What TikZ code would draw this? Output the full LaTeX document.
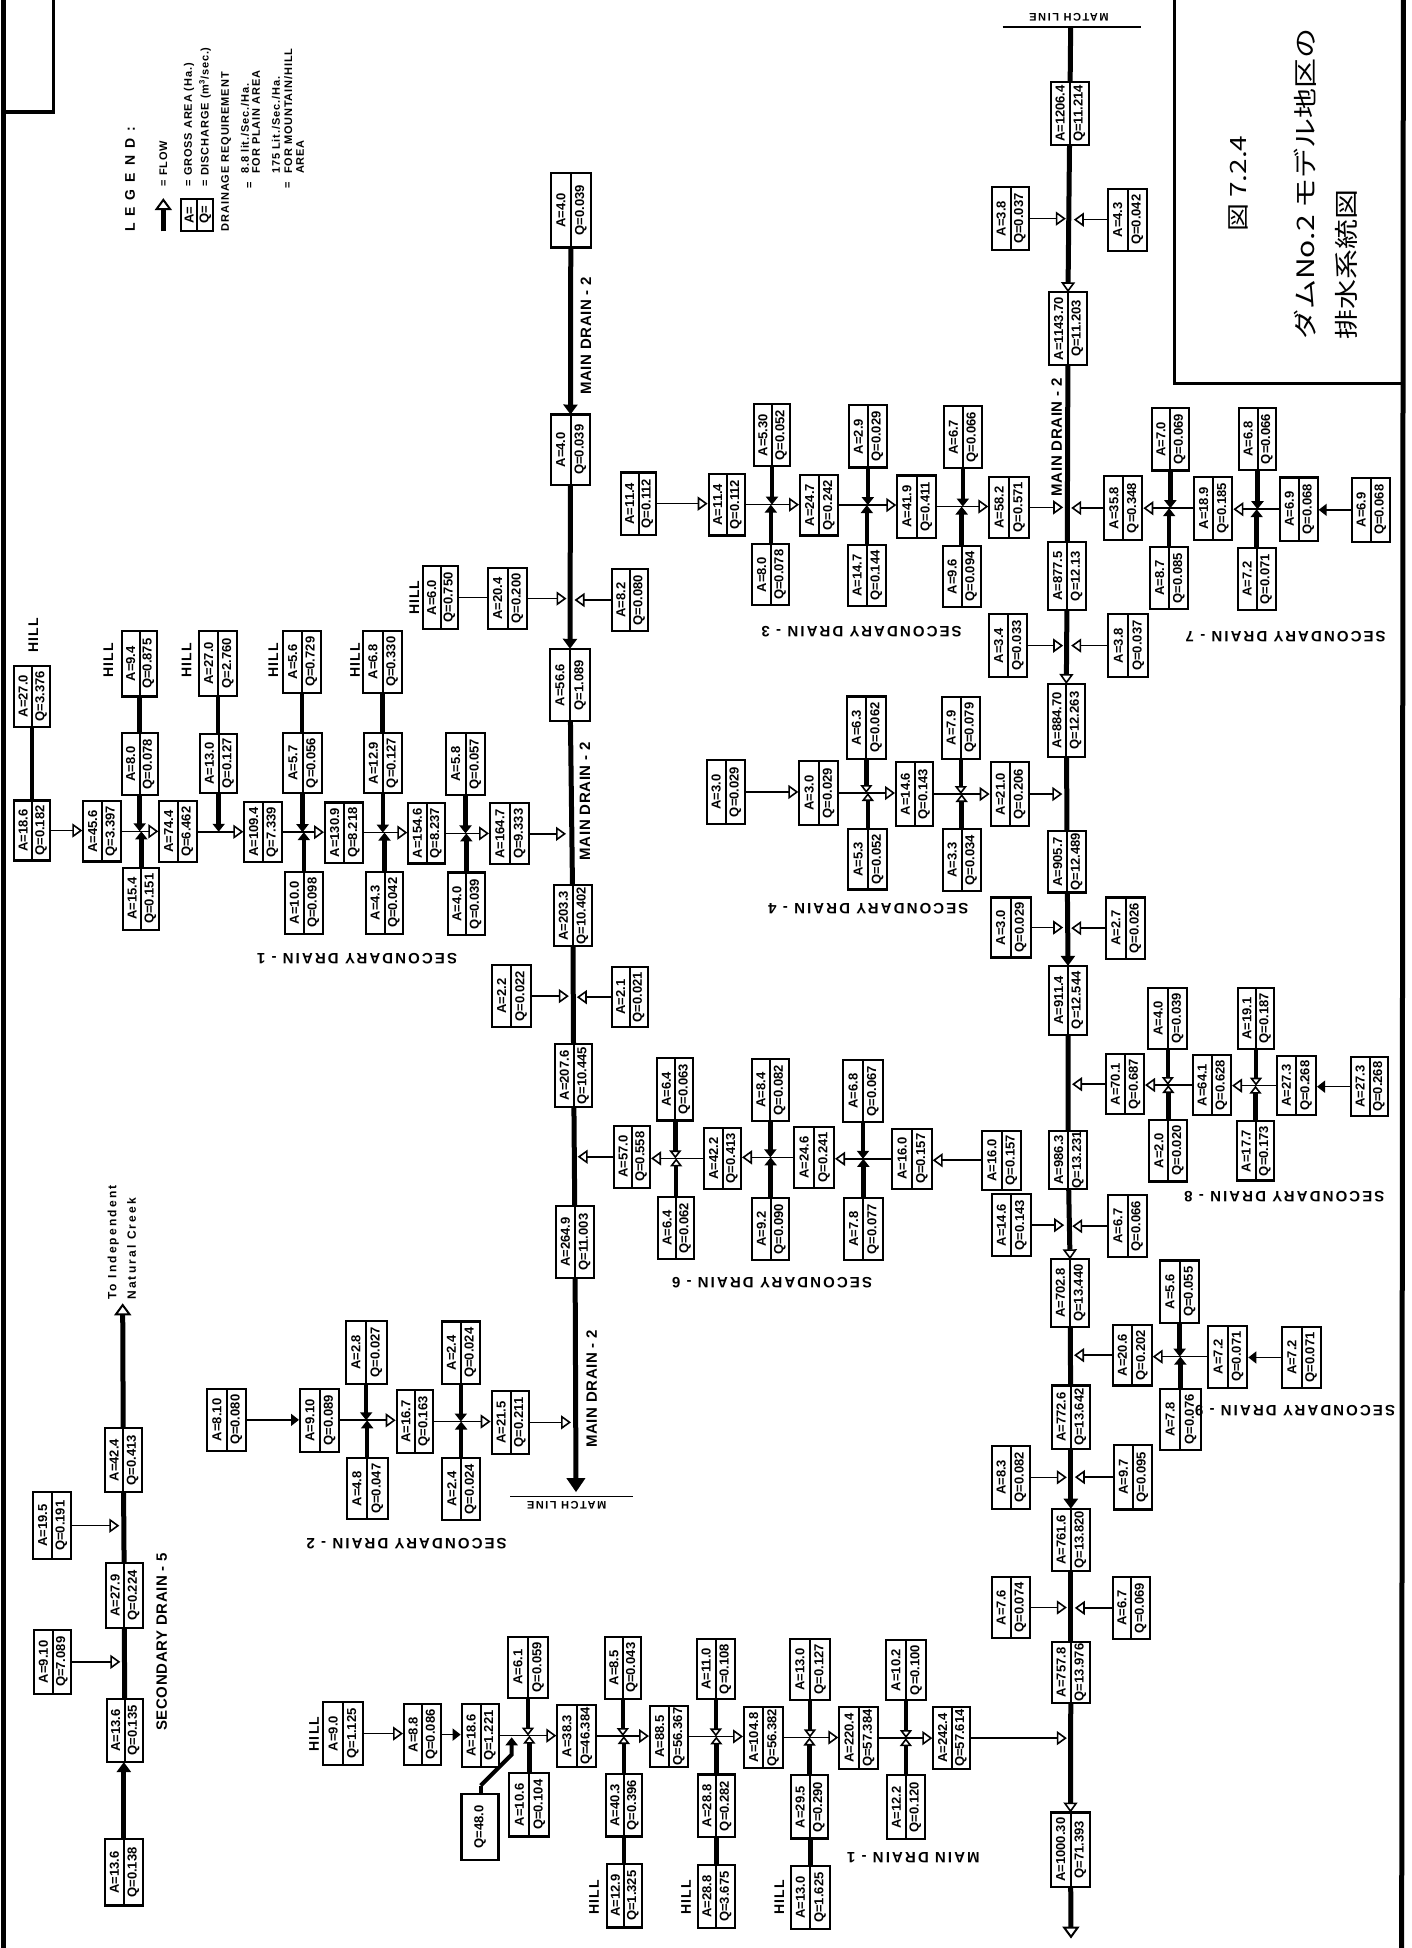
\documentclass[tikz,border=0pt]{standalone}
\usepackage{fontspec}
\usepackage{graphicx}
\setmainfont{Liberation Sans}
\newfontfamily\cjk{Noto Sans CJK JP}
\usetikzlibrary{arrows.meta}
\pgfdeclarelayer{bg}
\pgfsetlayers{bg,main}
\newcommand\lsf[2]{\bfseries\fontsize{#1}{#1}\selectfont\addfontfeature{LetterSpace=#2}}
\newcommand\thin[1]{\scalebox{1}[.8]{#1}}
\tikzset{
  oa/.tip={Triangle[fill=white,length=10pt,width=14pt,line width=1.6pt]},
  ob/.tip={Triangle[fill=white,length=12pt,width=17pt,line width=2pt]},
  ba/.tip={Triangle[length=10pt,width=14pt]},
  bb/.tip={Triangle[length=14pt,width=18pt]},
  jb/.tip={Triangle[length=8pt,width=12pt]},
  jw/.tip={Triangle[fill=white,length=8pt,width=12pt,line width=1.6pt]},
  bxo/.style={draw=black,fill=white,line width=2.2pt,rectangle,inner sep=0pt,outer sep=0pt},
  bxl/.style={draw=black,line width=2pt},
  bxt/.style={rotate=90,inner sep=0pt,font=\bfseries\fontsize{13}{13}\selectfont},
  thinl/.style={draw=black,line width=1.6pt},
  brl/.style={draw=black,line width=4.5pt},
  mainl/.style={draw=black,line width=5pt},
  fr/.style={draw=black,line width=5pt},
  fr2/.style={draw=black,line width=3.2pt},
  drn/.style={rotate=180,inner sep=0pt,font=\lsf{15}{14}},
  drv/.style={rotate=90,inner sep=0pt,font=\lsf{15}{4}},
  hill/.style={rotate=90,inner sep=0pt,font=\lsf{14}{8}},
  lg/.style={rotate=90,anchor=west,inner sep=0pt,font=\lsf{11}{8}},
  ttl/.style={rotate=90,anchor=west,inner sep=0pt,font=\cjk\fontsize{30}{30}\selectfont},
}
\newcommand\tile[2]{\pgfmathsetmacro\tcx{470*#1}\pgfmathsetmacro\tcy{650*#2}\ifnum#2=2 \def\tf{.4133}\else\def\tf{.4145}\fi}
\newcommand\bx[7]{%
  \pgfmathsetmacro\xa{\tcx+(#2)/3}\pgfmathsetmacro\xb{\tcx+(#4)/3}%
  \pgfmathsetmacro\ya{\tcy+(#3)*\tf}\pgfmathsetmacro\yb{\tcy+(#5)*\tf}%
  \pgfmathsetmacro\cxx{(\xa+\xb)/2}\pgfmathsetmacro\cyy{-(\ya+\yb)/2}%
  \pgfmathsetmacro\ww{\xb-\xa}\pgfmathsetmacro\hh{\yb-\ya}\pgfmathsetmacro\qw{\ww/4}%
  \node[bxo,minimum width=\ww pt,minimum height=\hh pt] (#1) at (\cxx,\cyy) {};
  \draw[bxl] (#1.north) -- (#1.south);
  \node[bxt] (#1-a) at ([xshift=-\qw pt]#1.center) {#6};
  \node[bxt] (#1-q) at ([xshift=\qw pt]#1.center) {#7};
}
\newcommand\lab[5][]{%
  \pgfmathsetmacro\xa{\tcx+(#3)/3}\pgfmathsetmacro\ya{-(\tcy+(#4)*\tf)}%
  \node[#1] (#2) at (\xa,\ya) {#5};
}
\newcommand\mypt[3]{%
  \pgfmathsetmacro\xa{\tcx+(#2)/3}\pgfmathsetmacro\ya{-(\tcy+(#3)*\tf)}%
  \coordinate (#1) at (\xa,\ya);
}
\newcommand\clr[3][oa]{\draw[thinl,-#1,shorten >=1pt] (#2.east) -- (#2.east -| #3.west);}
\newcommand\crl[3][oa]{\draw[thinl,-#1,shorten >=1pt] (#2.west) -- (#2.west -| #3.east);}
\newcommand\clm[2]{\draw[thinl,-oa,shorten >=4pt] (#1.east) -- (#1.east -| #2);}
\newcommand\crm[2]{\draw[thinl,-oa,shorten >=4pt] (#1.west) -- (#1.west -| #2);}
\newcommand\xjct[4][jb]{%
  \draw[brl,-#1] (#3.south) -- (#3.south |- #2.east);
  \draw[brl,-#1] (#4.north) -- (#4.north |- #2.east);
}
\begin{document}
\begin{tikzpicture}[x=1pt,y=1pt]
\useasboundingbox (0,0) rectangle (1411,-1948);
% ---------- tile 0,0 : frame, legend
\tile{0}{0}
\mypt{fla}{9}{0}\mypt{flb}{9}{4704}
\mypt{bxa}{160}{0}\mypt{bxb}{160}{270}\mypt{bxc}{15}{270}
\lab[lg,font=\lsf{14}{50}]{legt}{390}{560}{LEGEND:}
\mypt{las}{490}{558}\mypt{lae}{490}{478}
\lab[lg]{lgf}{490}{450}{= FLOW}
\bx{lgb}{543}{480}{640}{558}{A=}{Q=}
\lab[lg]{lg1}{567}{450}{= GROSS AREA (Ha.)}
\lab[lg]{lg2}{615}{450}{= DISCHARGE (m\textsuperscript{3}/sec.)}
\lab[lg]{lg3}{678}{558}{DRAINAGE REQUIREMENT}
\lab[lg]{lg4}{735}{420}{8.8 lit./Sec./Ha.}
\lab[lg]{lg4e}{750}{455}{=}
\lab[lg]{lg5}{768}{420}{FOR PLAIN AREA}
\lab[lg]{lg6}{828}{420}{175 Lit./Sec./Ha.}
\lab[lg]{lg6e}{865}{455}{=}
\lab[lg]{lg7}{865}{420}{FOR MOUNTAIN/HILL}
\lab[lg]{lg8}{900}{420}{AREA}
\bx{a60}{1268}{1365}{1375}{1518}{A=6.0}{Q=0.750}
\lab[hill]{h60}{1243}{1442}{HILL}
\lab[hill]{h27}{100}{1533}{HILL}
% ---------- tile 1,0
\tile{1}{0}
\bx{m2a}{243}{418}{362}{597}{A=4.0}{Q=0.039}
\bx{m2b}{243}{1000}{360}{1170}{A=4.0}{Q=0.039}
\lab[drv]{ldm2a}{348}{810}{MAIN DRAIN - 2}
\bx{a204}{53}{1370}{172}{1518}{A=20.4}{Q=0.200}
\bx{a82}{425}{1373}{535}{1522}{A=8.2}{Q=0.080}
\bx{s3a}{453}{1140}{558}{1290}{A=11.4}{Q=0.112}
\bx{s3b}{716}{1143}{825}{1292}{A=11.4}{Q=0.112}
\bx{s3t1}{852}{975}{960}{1125}{A=5.30}{Q=0.052}
\bx{s3d1}{847}{1313}{958}{1460}{A=8.0}{Q=0.078}
\bx{s3c}{990}{1145}{1105}{1292}{A=24.7}{Q=0.242}
\bx{s3t2}{1137}{978}{1250}{1128}{A=2.9}{Q=0.029}
\bx{s3d2}{1133}{1315}{1248}{1462}{A=14.7}{Q=0.144}
\bx{s3e}{1282}{1147}{1398}{1297}{A=41.9}{Q=0.411}
% ---------- tile 2,0
\tile{2}{0}
\mypt{frra}{1390}{0}\mypt{frrb}{1385}{4704}
\mypt{tba}{703}{0}\mypt{tbb}{703}{925}\mypt{tbc}{1388}{925}
\lab[ttl,font=\cjk\fontsize{28}{28}\selectfont]{ttl1}{895}{560}{\thin{図 7.2.4}}
\lab[ttl]{ttl2}{1095}{820}{\thin{ダムNo.2 モデル地区の}}
\lab[ttl]{ttl3}{1220}{820}{\thin{排水系統図}}
\mypt{mla}{188}{65}\mypt{mlb}{603}{65}\mypt{m7top}{392}{65}
\lab[drn,font=\lsf{11}{14}]{mlt1}{387}{42}{MATCH LINE}
\bx{m7a}{332}{198}{447}{350}{A=1206.4}{Q=11.214}
\bx{a38}{155}{452}{268}{603}{A=3.8}{Q=0.037}
\bx{a43}{503}{455}{622}{605}{A=4.3}{Q=0.042}
\bx{m7b}{328}{705}{440}{880}{A=1143.70}{Q=11.203}
\bx{m7c}{325}{1307}{438}{1472}{A=877.5}{Q=12.13}
\lab[drv]{ldm7}{350}{1055}{MAIN DRAIN - 2}
\bx{s3t3}{12}{980}{125}{1130}{A=6.7}{Q=0.066}
\bx{s3d3}{8}{1317}{122}{1465}{A=9.6}{Q=0.094}
\bx{s3f}{148}{1150}{267}{1298}{A=58.2}{Q=0.571}
\bx{s7a}{493}{1148}{607}{1303}{A=35.8}{Q=0.348}
\bx{s7t1}{635}{985}{747}{1135}{A=7.0}{Q=0.069}
\bx{s7d1}{630}{1320}{745}{1470}{A=8.7}{Q=0.085}
\bx{s7b}{762}{1150}{877}{1302}{A=18.9}{Q=0.185}
\bx{s7t2}{897}{985}{1008}{1133}{A=6.8}{Q=0.066}
\bx{s7d2}{893}{1323}{1007}{1472}{A=7.2}{Q=0.071}
\bx{s7c}{1020}{1152}{1133}{1305}{A=6.9}{Q=0.068}
\bx{s7e}{1235}{1153}{1350}{1307}{A=6.9}{Q=0.068}
\lab[drn]{ld7}{1037}{1535}{SECONDARY DRAIN - 7}
\bx{a34}{147}{1482}{262}{1633}{A=3.4}{Q=0.033}
\bx{a38b}{505}{1482}{625}{1633}{A=3.8}{Q=0.037}
\lab[drn]{ld3}{-235}{1523}{SECONDARY DRAIN - 3}
% ---------- tile 0,1
\tile{0}{1}
\bx{a270}{43}{38}{150}{185}{A=27.0}{Q=3.376}
\bx{a186b}{43}{363}{150}{508}{A=18.6}{Q=0.182}
\bx{a495}{250}{365}{362}{510}{A=45.6}{Q=3.397}
\bx{a94}{365}{-46}{472}{112}{A=9.4}{Q=0.875}
\bx{a80}{365}{200}{473}{350}{A=8.0}{Q=0.078}
\bx{a154}{370}{525}{478}{675}{A=15.4}{Q=0.151}
\bx{a744}{478}{365}{590}{512}{A=74.4}{Q=6.462}
\bx{a27t}{597}{-46}{712}{110}{A=27.0}{Q=2.760}
\bx{a130}{600}{203}{712}{345}{A=13.0}{Q=0.127}
\bx{a109}{733}{367}{845}{512}{A=109.4}{Q=7.339}
\bx{a56}{850}{-46}{962}{103}{A=5.6}{Q=0.729}
\bx{a57}{850}{200}{965}{345}{A=5.7}{Q=0.056}
\bx{a100}{855}{535}{968}{685}{A=10.0}{Q=0.098}
\bx{a1309}{975}{368}{1090}{513}{A=130.9}{Q=8.218}
\bx{a68}{1090}{-46}{1205}{103}{A=6.8}{Q=0.330}
\bx{a129}{1092}{200}{1205}{345}{A=12.9}{Q=0.127}
\bx{a43b}{1097}{535}{1210}{685}{A=4.3}{Q=0.042}
\bx{a1546}{1225}{370}{1335}{515}{A=154.6}{Q=8.237}
\bx{a58}{1338}{200}{1455}{350}{A=5.8}{Q=0.057}
\bx{a40}{1343}{537}{1455}{688}{A=4.0}{Q=0.039}
\bx{a1647}{1470}{370}{1588}{517}{A=164.7}{Q=9.333}
\lab[hill]{h94}{325}{25}{HILL}
\lab[hill]{h27t}{560}{25}{HILL}
\lab[hill]{h56}{820}{25}{HILL}
\lab[hill]{h68}{1065}{25}{HILL}
\lab[drn]{ld1}{1071}{745}{SECONDARY DRAIN - 1}
\lab[rotate=90,anchor=west,inner sep=0pt,font=\lsf{12}{18}]{tocr1}{340}{1568}{To Independent}
\lab[rotate=90,anchor=west,inner sep=0pt,font=\lsf{12}{18}]{tocr2}{395}{1568}{Natural Creek}
% ---------- tile 1,1
\tile{1}{1}
\bx{s4z}{710}{265}{825}{420}{A=3.0}{Q=0.029}
\bx{s4a}{988}{267}{1105}{423}{A=3.0}{Q=0.029}
\bx{s4t1}{1130}{112}{1248}{262}{A=6.3}{Q=0.062}
\bx{s4d1}{1135}{432}{1252}{578}{A=5.3}{Q=0.052}
\bx{s4b}{1278}{270}{1390}{425}{A=14.6}{Q=0.143}
\lab[drn]{ld4}{1195}{625}{SECONDARY DRAIN - 4}
\bx{m2c}{240}{-3}{360}{172}{A=56.6}{Q=1.089}
\lab[drv]{ldm2b}{345}{365}{MAIN DRAIN - 2}
\bx{m2d}{252}{567}{365}{715}{A=203.3}{Q=10.402}
\bx{a22}{65}{760}{183}{910}{A=2.2}{Q=0.022}
\bx{a21}{425}{765}{533}{910}{A=2.1}{Q=0.021}
\bx{m2e}{255}{950}{367}{1103}{A=207.6}{Q=10.445}
\bx{s6a}{433}{1148}{540}{1297}{A=57.0}{Q=0.558}
\bx{s6t1}{562}{985}{670}{1135}{A=6.4}{Q=0.063}
\bx{s6d1}{565}{1320}{672}{1470}{A=6.4}{Q=0.062}
\bx{s6b}{703}{1153}{813}{1300}{A=42.2}{Q=0.413}
\bx{s6t2}{845}{987}{957}{1137}{A=8.4}{Q=0.082}
\bx{s6d2}{847}{1322}{957}{1472}{A=9.2}{Q=0.090}
\bx{s6c}{973}{1150}{1092}{1298}{A=24.6}{Q=0.241}
\bx{s6t3}{1120}{990}{1238}{1138}{A=6.8}{Q=0.067}
\bx{s6d3}{1122}{1322}{1238}{1472}{A=7.8}{Q=0.077}
\bx{s6e}{1267}{1155}{1385}{1300}{A=16.0}{Q=0.157}
\bx{m2f}{258}{1342}{372}{1515}{A=264.9}{Q=11.003}
\lab[drn]{ld6}{906}{1527}{SECONDARY DRAIN - 6}
% ---------- tile 2,1
\tile{2}{1}
\bx{m7d}{323}{82}{435}{258}{A=884.70}{Q=12.263}
\bx{s4f}{152}{270}{268}{425}{A=21.0}{Q=0.206}
\bx{s4t3}{5}{113}{120}{262}{A=7.9}{Q=0.079}
\bx{s4d3}{8}{432}{122}{582}{A=3.3}{Q=0.034}
\bx{m7e}{325}{437}{438}{585}{A=905.7}{Q=12.489}
\bx{a30b}{152}{597}{272}{742}{A=3.0}{Q=0.029}
\bx{a27}{498}{597}{615}{745}{A=2.7}{Q=0.026}
\bx{m7f}{328}{762}{440}{928}{A=911.4}{Q=12.544}
\bx{s8a}{498}{975}{612}{1120}{A=70.1}{Q=0.687}
\bx{s8t1}{625}{815}{742}{962}{A=4.0}{Q=0.039}
\bx{s8d1}{628}{1133}{742}{1282}{A=2.0}{Q=0.020}
\bx{s8b}{758}{977}{873}{1122}{A=64.1}{Q=0.628}
\bx{s8t2}{893}{815}{1003}{962}{A=19.1}{Q=0.187}
\bx{s8d2}{890}{1137}{1003}{1280}{A=17.7}{Q=0.173}
\bx{s8c}{1010}{980}{1128}{1122}{A=27.3}{Q=0.268}
\bx{s8e}{1232}{982}{1345}{1125}{A=27.3}{Q=0.268}
\bx{m7g}{327}{1160}{442}{1300}{A=986.3}{Q=13.231}
\bx{a148}{155}{1313}{272}{1462}{A=14.6}{Q=0.143}
\bx{a67}{505}{1315}{620}{1465}{A=6.7}{Q=0.066}
\bx{a160}{127}{1160}{243}{1302}{A=16.0}{Q=0.157}
\lab[drn]{ld8}{1033}{1318}{SECONDARY DRAIN - 8}
\bx{m7h}{333}{1470}{447}{1633}{A=702.8}{Q=13.440}
\bx{s9t}{660}{1473}{778}{1623}{A=5.6}{Q=0.055}
% ---------- tile 2,2
\tile{2}{2}
\bx{s9a}{518}{60}{635}{207}{A=20.6}{Q=0.202}
\bx{s9b}{805}{62}{922}{212}{A=7.2}{Q=0.071}
\bx{s9e}{1027}{65}{1142}{213}{A=7.2}{Q=0.071}
\bx{s9d}{660}{215}{782}{363}{A=7.8}{Q=0.076}
\bx{m7i}{335}{207}{450}{360}{A=772.6}{Q=13.642}
\bx{a83}{155}{353}{270}{505}{A=8.3}{Q=0.082}
\bx{a97}{522}{350}{635}{507}{A=9.7}{Q=0.095}
\bx{m7j}{335}{505}{450}{655}{A=761.6}{Q=13.820}
\bx{a76}{155}{670}{270}{818}{A=7.6}{Q=0.074}
\bx{a67b}{518}{670}{630}{820}{A=6.7}{Q=0.069}
\bx{m7k}{335}{827}{450}{975}{A=757.8}{Q=13.976}
\bx{m7l}{333}{1240}{450}{1420}{A=1000.30}{Q=71.393}
\mypt{m7end}{393}{1545}
\lab[drn]{ld9}{1065}{267}{SECONDARY DRAIN - 9}
\lab[drn]{ldm1}{-80}{1350}{MAIN DRAIN - 1}
% ---------- tile 0,2
\tile{0}{2}
\bx{s5a}{315}{1305}{428}{1465}{A=13.6}{Q=0.138}
\bx{s5b}{320}{965}{428}{1118}{A=13.6}{Q=0.135}
\bx{s5c}{318}{637}{428}{793}{A=27.9}{Q=0.224}
\bx{s5d}{315}{310}{425}{465}{A=42.4}{Q=0.413}
\bx{s5e}{103}{798}{213}{953}{A=9.10}{Q=7.089}
\bx{s5f}{100}{465}{212}{627}{A=19.5}{Q=0.191}
\mypt{s5top}{368}{8}
\lab[drv]{ld5}{485}{827}{SECONDARY DRAIN - 5}
\bx{s2z}{622}{215}{738}{365}{A=8.10}{Q=0.080}
\bx{s2a}{900}{215}{1018}{367}{A=9.10}{Q=0.089}
\bx{s2t1}{1037}{50}{1160}{203}{A=2.8}{Q=0.027}
\bx{s2d1}{1040}{383}{1163}{530}{A=4.8}{Q=0.047}
\bx{s2b}{1190}{218}{1300}{370}{A=16.7}{Q=0.163}
\bx{s2t2}{1325}{52}{1440}{203}{A=2.4}{Q=0.024}
\bx{s2d2}{1327}{383}{1440}{532}{A=2.4}{Q=0.024}
\bx{a90}{970}{973}{1088}{1125}{A=9.0}{Q=1.125}
\lab[hill]{h90}{942}{1050}{HILL}
\bx{a88}{1212}{978}{1322}{1125}{A=8.8}{Q=0.086}
\lab[drn]{ld2}{1220}{590}{SECONDARY DRAIN - 2}
% ---------- tile 1,2
\tile{1}{2}
\bx{s2c}{65}{220}{178}{372}{A=21.5}{Q=0.211}
\lab[drv]{ldm2c}{365}{215}{MAIN DRAIN - 2}
\mypt{m2end}{318}{465}
\mypt{mlc}{120}{475}\mypt{mld}{490}{475}
\lab[drn,font=\lsf{11}{14}]{mlt2}{290}{497}{MATCH LINE}
\bx{a186}{-25}{978}{88}{1130}{A=18.6}{Q=1.221}
\lab[bxo,minimum width=37pt,minimum height=66pt,font=\bfseries\fontsize{13}{13}\selectfont]{q48}{30}{1275}{\rotatebox{90}{Q=48.0}}
\mypt{q48a}{32}{1175}\mypt{q48b}{125}{1100}\mypt{q48c}{125}{1058}
\bx{m1t1}{113}{815}{235}{962}{A=6.1}{Q=0.059}
\bx{m1d1}{118}{1145}{238}{1298}{A=10.6}{Q=0.104}
\bx{m1a}{262}{980}{378}{1130}{A=38.3}{Q=46.384}
\bx{m1t2}{405}{815}{512}{965}{A=8.5}{Q=0.043}
\bx{m1d2}{408}{1147}{515}{1298}{A=40.3}{Q=0.396}
\bx{m1h2}{410}{1365}{515}{1518}{A=12.9}{Q=1.325}
\lab[hill]{h2}{372}{1445}{HILL}
\bx{m1b}{540}{982}{655}{1130}{A=88.5}{Q=56.367}
\bx{m1t3}{680}{820}{795}{965}{A=11.0}{Q=0.108}
\bx{m1d3}{683}{1148}{795}{1300}{A=28.8}{Q=0.282}
\bx{m1h3}{683}{1367}{795}{1520}{A=28.8}{Q=3.675}
\lab[hill]{h3}{648}{1445}{HILL}
\bx{m1c}{822}{985}{938}{1132}{A=104.8}{Q=56.382}
\bx{m1t4}{960}{820}{1080}{967}{A=13.0}{Q=0.127}
\bx{m1d4}{962}{1150}{1075}{1303}{A=29.5}{Q=0.290}
\bx{m1h4}{962}{1370}{1080}{1522}{A=13.0}{Q=1.625}
\lab[hill]{h4}{928}{1445}{HILL}
\bx{m1e}{1108}{985}{1225}{1135}{A=220.4}{Q=57.384}
\bx{m1t5}{1248}{822}{1368}{968}{A=10.2}{Q=0.100}
\bx{m1d5}{1250}{1150}{1365}{1305}{A=12.2}{Q=0.120}
\bx{m1f}{1390}{985}{1500}{1135}{A=242.4}{Q=57.614}
% ---------- connectors, under the boxes
\begin{pgfonlayer}{bg}
\draw[fr] (fla) -- (flb);
\draw[fr] (frra) -- (frrb);
\draw[fr2] (bxa) -- (bxb) -- (bxc);
\draw[fr2] (tba) -- (tbb) -- (tbc);
\draw[mainl,-ob] (las) -- (lae);
\draw[thinl] (mla) -- (mlb);
\draw[thinl] (mlc) -- (mld);
% main drain 2 (upper)
\draw[mainl,-ba] (m2a) -- (m2b.north);
\draw[mainl,-ba] (m2b) -- (m2c.north);
\draw[mainl] (m2c) -- (m2d) -- (m2e) -- (m2f);
\draw[mainl,-bb] (m2f) -- (m2end);
\draw[thinl] (a60.east) -- (a204.west |- a60.east);
\clm{a204}{m2b}
\crm{a82}{m2b}
\clm{a1647}{m2c}
\clm{a22}{m2d}
\crm{a21}{m2d}
\crm{s6a}{m2e}
\clm{s2c}{m2f}
% main drain 2 (right)
\draw[mainl] (m7top) -- (m7a);
\draw[mainl,-oa] (m7a) -- (m7b.north);
\draw[mainl] (m7b) -- (m7c);
\draw[mainl,-oa] (m7c) -- (m7d.north);
\draw[mainl] (m7d) -- (m7e);
\draw[mainl,-ba] (m7e) -- (m7f.north);
\draw[mainl] (m7f) -- (m7g);
\draw[mainl,-oa] (m7g) -- (m7h.north);
\draw[mainl] (m7h) -- (m7i);
\draw[mainl,-ba] (m7i) -- (m7j.north);
\draw[mainl] (m7j) -- (m7k);
\draw[mainl,-oa] (m7k) -- (m7l.north);
\draw[mainl,-ob] (m7l) -- (m7end);
\clm{a38}{m7a}\crm{a43}{m7a}
\clm{s3f}{m7c}\crm{s7a}{m7c}
\clm{a34}{m7c}\crm{a38b}{m7c}
\clm{s4f}{m7d}
\clm{a30b}{m7e}\crm{a27}{m7e}
\crm{s8a}{m7f}
\clm{a148}{m7g}\crm{a67}{m7g}
\crm{s9a}{m7h}
\clm{a83}{m7i}\crm{a97}{m7i}
\clm{a76}{m7j}\crm{a67b}{m7j}
\clm{m1f}{m7k}
% secondary drain 1
\draw[brl] (a270.south) -- (a270.south |- a186b.north);
\clr{a186b}{a495}\clr{a495}{a744}\clr{a744}{a109}\clr{a109}{a1309}\clr{a1309}{a1546}\clr{a1546}{a1647}
\draw[brl] (a94.south) -- (a94.south |- a80.north);
\draw[brl] (a27t.south) -- (a27t.south |- a130.north);
\draw[brl] (a56.south) -- (a56.south |- a57.north);
\draw[brl] (a68.south) -- (a68.south |- a129.north);
\xjct{a495}{a80}{a154}
\draw[brl,-jb] (a130.south) -- (a130.south |- a744.east);
\xjct{a109}{a57}{a100}
\xjct{a1309}{a129}{a43b}
\xjct{a1546}{a58}{a40}
% secondary drain 3
\clr{s3a}{s3b}\clr{s3b}{s3c}\clr{s3c}{s3e}\clr{s3e}{s3f}
\xjct{s3b}{s3t1}{s3d1}\xjct{s3c}{s3t2}{s3d2}\xjct{s3e}{s3t3}{s3d3}
% secondary drain 7
\crl[jb]{s7e}{s7c}\crl{s7c}{s7b}\crl{s7b}{s7a}
\xjct{s7c}{s7t2}{s7d2}\xjct{s7b}{s7t1}{s7d1}
% secondary drain 4
\clr{s4z}{s4a}\clr{s4a}{s4b}\clr{s4b}{s4f}
\xjct[jw]{s4a}{s4t1}{s4d1}\xjct[jw]{s4b}{s4t3}{s4d3}
% secondary drain 8
\crl[jb]{s8e}{s8c}\crl{s8c}{s8b}\crl{s8b}{s8a}
\xjct[jw]{s8c}{s8t2}{s8d2}\xjct[jw]{s8b}{s8t1}{s8d1}
% secondary drain 6
\crl{a160}{s6e}\crl{s6e}{s6c}\crl{s6c}{s6b}\crl{s6b}{s6a}
\xjct{s6e}{s6t3}{s6d3}\xjct{s6c}{s6t2}{s6d2}\xjct[jw]{s6b}{s6t1}{s6d1}
% secondary drain 9
\crl[jb]{s9e}{s9b}\crl{s9b}{s9a}
\xjct{s9b}{s9t}{s9d}
% secondary drain 2
\clr[jb]{s2z}{s2a}\clr{s2a}{s2b}\clr{s2b}{s2c}
\xjct{s2a}{s2t1}{s2d1}\xjct{s2b}{s2t2}{s2d2}
% secondary drain 5
\draw[mainl,-ba] (s5a.north) -- (s5a.north |- s5b.south);
\draw[mainl,-ob] (s5b) -- (s5c) -- (s5d) -- (s5top);
\clm{s5e}{s5c}\clm{s5f}{s5d}
% main drain 1
\clr{a90}{a88}\clr[jb]{a88}{a186}\clr{a186}{m1a}\clr{m1a}{m1b}\clr{m1b}{m1c}\clr{m1c}{m1e}\clr{m1e}{m1f}
\xjct[jw]{a186}{m1t1}{m1d1}\xjct[jw]{m1a}{m1t2}{m1d2}\xjct[jw]{m1b}{m1t3}{m1d3}\xjct[jw]{m1c}{m1t4}{m1d4}\xjct[jw]{m1e}{m1t5}{m1d5}
\draw[brl] (m1h2.north) -- (m1h2.north |- m1d2.south);
\draw[brl] (m1h3.north) -- (m1h3.north |- m1d3.south);
\draw[brl] (m1h4.north) -- (m1h4.north |- m1d4.south);
\draw[draw=black,line width=4pt,-jb] (q48a) -- (q48b) -- (q48c);
\draw[draw=black,line width=4pt] (q48.north -| q48a) -- (q48a);
\end{pgfonlayer}
\end{tikzpicture}
\end{document}
